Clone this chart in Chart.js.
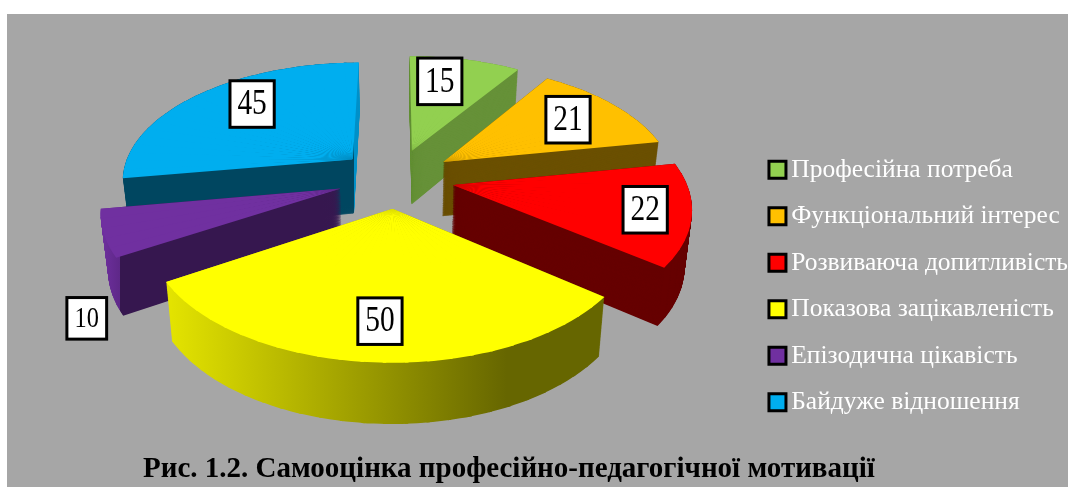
<!DOCTYPE html>
<html>
<head>
<meta charset="utf-8">
<style>html,body{margin:0;padding:0;background:#fff}canvas{display:block}</style>
<script src="https://cdn.jsdelivr.net/npm/chart.js@4/dist/chart.umd.min.js"></script>
</head>
<body>
<canvas id="c" width="1078" height="487"></canvas>
<script>
const categories = ['Професійна потреба','Функціональний інтерес','Розвиваюча допитливість','Показова зацікавленість','Епізодична цікавість','Байдуже відношення'];
const values = [15,21,22,50,10,45];
const topColors = ['#92D050','#FFC000','#FF0000','#FFFF00','#7030A0','#00AEEF'];
const sideColors = ['#669138','#6B5000','#660000','#666600','#36174F','#004660'];
const chartTitle = 'Рис. 1.2. Самооцінка професійно-педагогічної мотивації';

// camera over the pie plane (radius = 1)
const cam = {cx:396, cy:178, B:232, A:118, P:0.1616, explode:0.25, depth:55, depthTilt:5, shrink:0.025};
const drawOrder = [5,0,1,4,2,3];
const labelNudge = [[-11,-3],[3,-1],[27,4],[-1,11],[-91,99],[9,-8]];
const labelFont = [35,35,35,35,29,35];
const sideStops = {
  3:[[168,'#E4E400'],[507,'#666600'],[610,'#666600']],
  4:[[100,'#7030A0'],[120,'#5E2888'],[120.5,'#36174F'],[350,'#36174F']],
  5:[[120,'#004660'],[353.5,'#004660'],[354,'#0090C8'],[370,'#0090C8']]
};
const stepAngle = Math.PI/40, layerStep = 1/80;

// projects a plane point; h is the height fraction from top face (0) to bottom face (1)
function project(u,v,h){
  const w=1-cam.P*v, d=cam.depth+cam.depthTilt*v;
  return {x:cam.cx+cam.B*u/w*(1-cam.shrink*h), y:cam.cy+cam.A*v/w+h*d};
}

function subTransform(arc,t0,t1,h){
  const mid=(arc.baseStart+arc.baseEnd)/2;
  const au=cam.explode*Math.cos(mid),av=cam.explode*Math.sin(mid);
  const qa=project(au,av,h);
  const x0=Math.cos(t0),y0=Math.sin(t0),x1=Math.cos(t1),y1=Math.sin(t1);
  const q0=project(au+x0,av+y0,h),q1=project(au+x1,av+y1,h);
  const dx0=q0.x-qa.x,dy0=q0.y-qa.y,dx1=q1.x-qa.x,dy1=q1.y-qa.y;
  const det=x0*y1-x1*y0,R=arc.outerRadius;
  const a=(dx0*y1-dx1*y0)/det/R,c=(dx1*x0-dx0*x1)/det/R;
  const b=(dy0*y1-dy1*y0)/det/R,d=(dy1*x0-dy0*x1)/det/R;
  return {a,b,c,d,e:qa.x-a*arc.x-c*arc.y,f:qa.y-b*arc.x-d*arc.y};
}

function screenGradient(ctx,T,stops){
  const n=T.a*T.a+T.c*T.c,x0=stops[0][0],x1=stops[stops.length-1][0];
  const k0=(x0-T.e)/n,k1=(x1-T.e)/n;
  const g=ctx.createLinearGradient(k0*T.a,k0*T.c,k1*T.a,k1*T.c);
  stops.forEach(s=>g.addColorStop((s[0]-x0)/(x1-x0),s[1]));
  return g;
}

function paintSlice(arc,ctx,h,fillFor){
  const s=arc.baseStart,e=arc.baseEnd,n=Math.max(1,Math.ceil((e-s)/stepAngle));
  for(let j=0;j<n;j++){
    const t0=s+(e-s)*j/n,t1=s+(e-s)*(j+1)/n;
    const T=subTransform(arc,t0,t1,h);
    ctx.setTransform(T.a,T.b,T.c,T.d,T.e,T.f);
    arc.startAngle=t0;
    arc.endAngle=j<n-1?t1+0.012:t1;
    arc.circumference=arc.endAngle-arc.startAngle;
    arc.options=Object.assign({},arc.baseOptions,{backgroundColor:fillFor(T),borderWidth:0});
    arc.draw(ctx);
  }
}

const pie3d={
  id:'pie3d',
  beforeDraw(chart){
    const ctx=chart.ctx;
    ctx.save();
    ctx.fillStyle='#A6A6A6';
    ctx.fillRect(7,14,1061,473);
    ctx.restore();
  },
  beforeDatasetDraw(chart,args){
    const ctx=chart.ctx,arcs=args.meta.data;
    ctx.save();
    drawOrder.forEach(i=>{
      const arc=arcs[i];
      arc.baseStart=arc.startAngle;arc.baseEnd=arc.endAngle;arc.baseOptions=arc.options;
      const baseCirc=arc.circumference;
      const side=T=>sideStops[i]?screenGradient(ctx,T,sideStops[i]):sideColors[i];
      for(let h=1;h>0;h-=layerStep) paintSlice(arc,ctx,h,side);
      paintSlice(arc,ctx,0,()=>topColors[i]);
      arc.startAngle=arc.baseStart;arc.endAngle=arc.baseEnd;arc.circumference=baseCirc;arc.options=arc.baseOptions;
    });
    ctx.restore();
    return false;
  },
  afterDatasetsDraw(chart){
    const ctx=chart.ctx,arcs=chart.getDatasetMeta(0).data;
    ctx.save();
    arcs.forEach((arc,i)=>{
      const mid=(arc.startAngle+arc.endAngle)/2,r=cam.explode+0.7;
      const p=project(r*Math.cos(mid),r*Math.sin(mid),0);
      const x=p.x+labelNudge[i][0],y=p.y+labelNudge[i][1],fs=labelFont[i];
      const w=fs*0.75+18,h=fs*0.83+17.5;
      ctx.fillStyle='#fff';ctx.strokeStyle='#000';ctx.lineWidth=3;
      ctx.fillRect(x-w/2,y-h/2,w,h);ctx.strokeRect(x-w/2,y-h/2,w,h);
      ctx.save();
      ctx.translate(x,y);ctx.scale(0.84,1);
      ctx.fillStyle='#000';ctx.font=fs+'px "Liberation Serif"';
      ctx.textAlign='center';ctx.textBaseline='middle';
      ctx.fillText(String(values[i]),0,1);
      ctx.restore();
    });
    ctx.restore();
  }
};

new Chart(document.getElementById('c'),{
  type:'pie',
  data:{labels:categories,datasets:[{data:values,backgroundColor:topColors,borderWidth:0}]},
  plugins:[pie3d],
  options:{
    responsive:false,animation:false,rotation:0,
    layout:{padding:{right:0,top:14,left:143,bottom:0}},
    plugins:{
      tooltip:{enabled:false},
      title:{display:true,text:chartTitle,position:'bottom',align:'start',color:'#000',padding:{top:0,bottom:0},
        font:{family:'"Liberation Serif"',size:29,weight:'bold'}},
      legend:{
        position:'right',
        title:{display:true,text:' ',color:'transparent',font:{size:1},padding:{top:70,bottom:0}},
        labels:{
          color:'#fff',usePointStyle:true,pointStyle:'rect',boxWidth:2,boxHeight:17,padding:21,
          font:{family:'"Liberation Serif"',size:25.5},
          generateLabels(chart){
            return categories.map((t,i)=>({text:t,fillStyle:topColors[i],strokeStyle:'#000',lineWidth:3,pointStyle:'rect',index:i,fontColor:'#fff'}));
          }
        }
      }
    }
  }
});
</script>
</body>
</html>
